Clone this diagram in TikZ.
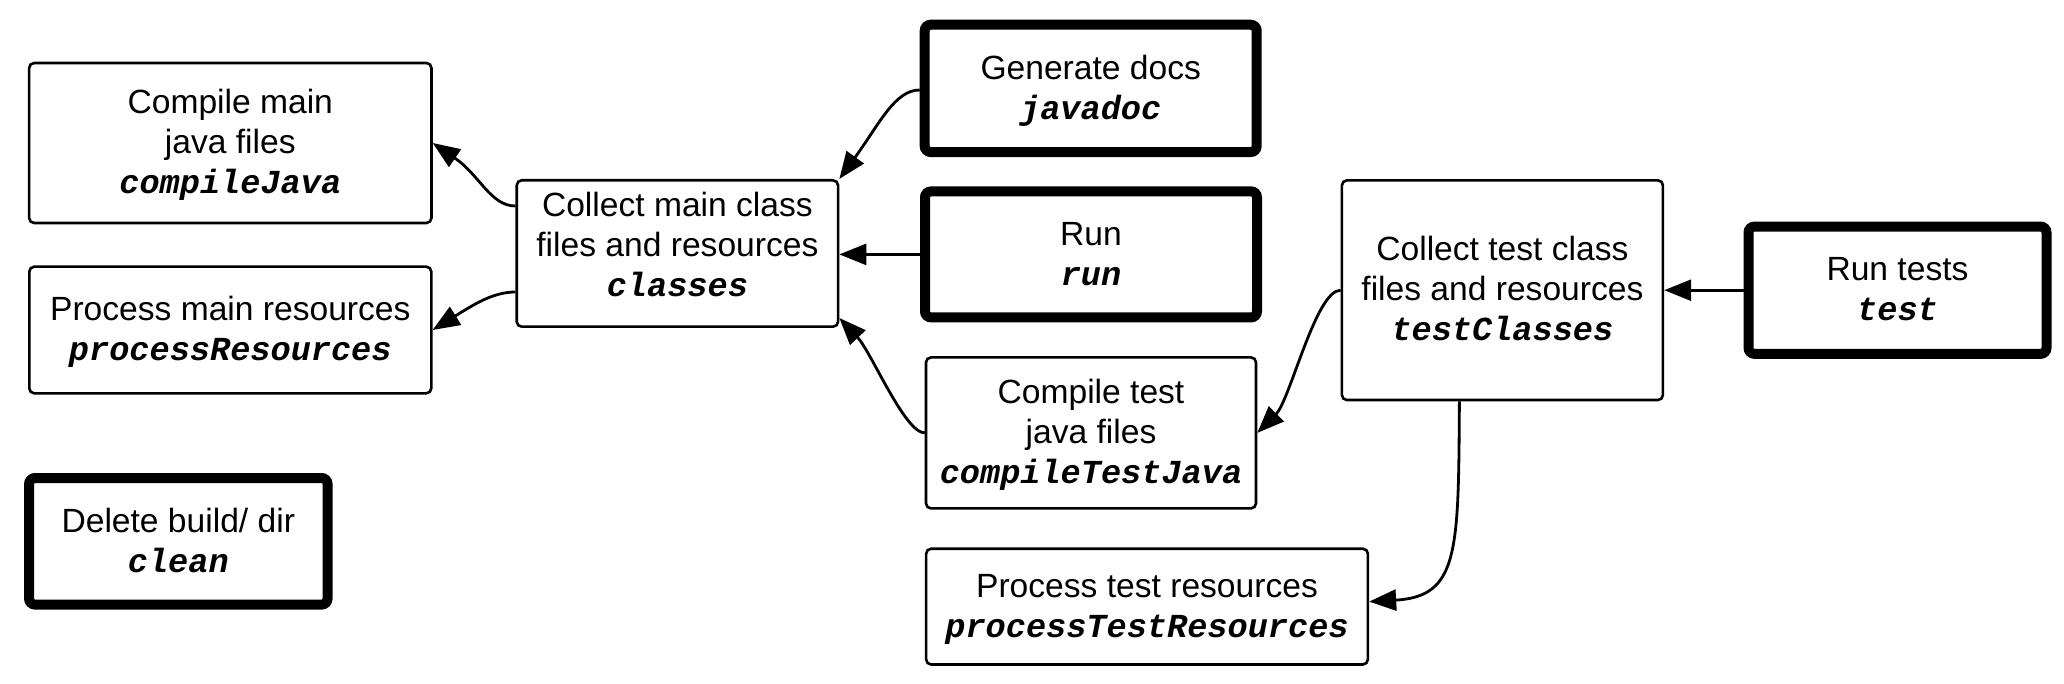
\documentclass[tikz,border=0pt]{standalone}
\usepackage{fontspec}
\setmainfont{Liberation Sans}
\newfontfamily\codefont{Liberation Mono}
\usetikzlibrary{arrows.meta,calc}
\newcommand\taskname[1]{{\codefont\bfseries\itshape #1}}
\begin{document}
\begin{tikzpicture}[x=1pt,y=-1pt,
  box/.style={draw, rounded corners=5pt, line width=2.6pt, align=center, inner sep=0pt,
    text height=64.06pt, text depth=2.5pt,
    font=\fontsize{33.6}{40}\selectfont},
  threeline/.style={text height=104.06pt},
  thickbox/.style={box, line width=10pt, rounded corners=6pt},
  link/.style={line width=2.8pt, -{Triangle[length=27pt,width=21pt]}},
]
\useasboundingbox (0,0) rectangle (2064,684);

\node[box, threeline, minimum width=402.3pt, minimum height=160pt] (cj) at (230.3,143)
  {Compile main\\java files\\\taskname{compileJava}};
\node[box, minimum width=402pt, minimum height=126.7pt] (pr) at (230.3,330)
  {Process main resources\\\taskname{processResources}};
\node[thickbox, minimum width=298.5pt, minimum height=126.6pt] (clean) at (178.3,541.3)
  {Delete build/ dir\\\taskname{clean}};
\node[box, threeline, minimum width=321.3pt, minimum height=146.4pt, text depth=19pt] (classes) at (677.4,253.5)
  {Collect main class\\files and resources\\\taskname{classes}};
\node[thickbox, minimum width=332pt, minimum height=127.3pt] (javadoc) at (1090.7,88.4)
  {Generate docs\\\taskname{javadoc}};
\node[thickbox, minimum width=332pt, minimum height=126pt] (run) at (1091,254.4)
  {Run\\\taskname{run}};
\node[box, threeline, minimum width=330pt, minimum height=151pt] (ctj) at (1091,432.9)
  {Compile test\\java files\\\taskname{compileTestJava}};
\node[box, minimum width=441.7pt, minimum height=115.8pt] (ptr) at (1147,606.6)
  {Process test resources\\\taskname{processTestResources}};
\node[box, threeline, minimum width=321pt, minimum height=219.7pt] (tc) at (1502.4,290.2)
  {Collect test class\\files and resources\\\taskname{testClasses}};
\node[thickbox, minimum width=298pt, minimum height=127.3pt] (test) at (1897.5,290.2)
  {Run tests\\\taskname{test}};

\draw[link] ([yshift=47.5pt]classes.west) .. controls +(-25,0) and +(47,32) .. (cj.east);
\draw[link] ([yshift=-38.5pt]classes.west) .. controls +(-22,0) and +(42,-26) .. (pr.east);
\draw[link] ([yshift=-1.6pt]javadoc.west) .. controls +(-25,0) and +(40,-55) .. (classes.north east);
\draw[link] (run.west) -- (run.west -| classes.east);
\draw[link] (ctj.west) .. controls +(-20,0) and +(32,34) .. ([yshift=10pt]classes.south east);
\draw[link] (test.west) -- (tc.east);
\draw[link] (tc.west) .. controls +(-25,0) and +(33,-33) .. (ctj.east);
\draw[link] ([xshift=-43pt]tc.south) .. controls +(-1,150) and +(90,-5) .. ([yshift=5pt]ptr.east);
\end{tikzpicture}
\end{document}
